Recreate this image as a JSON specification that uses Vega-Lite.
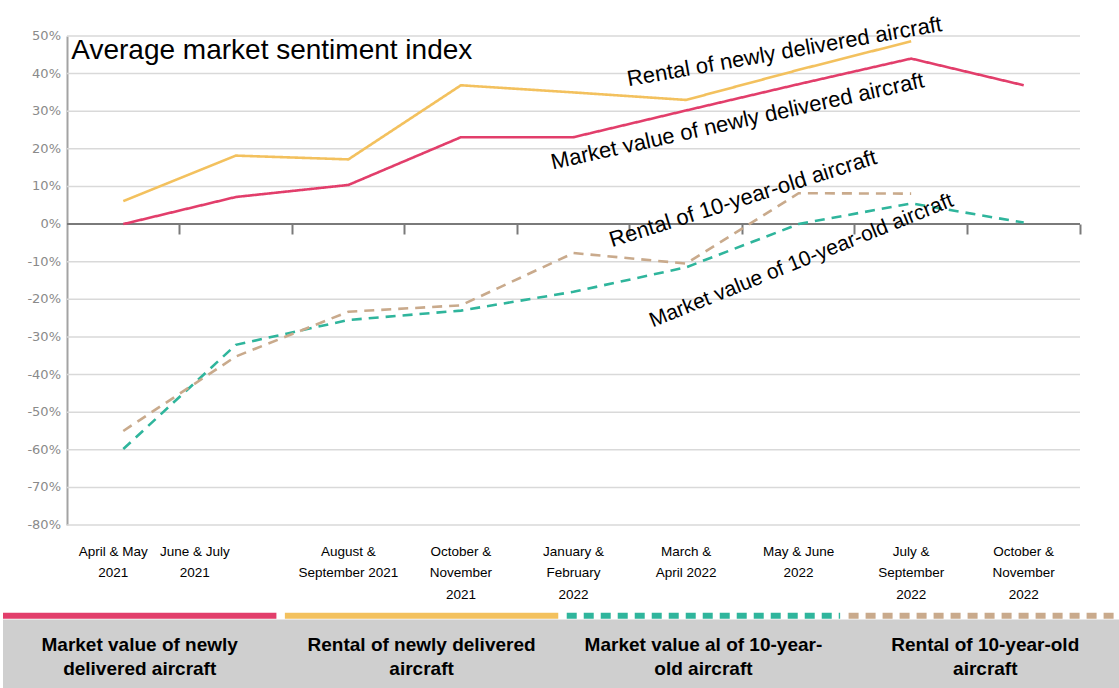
{
  "$schema": "https://vega.github.io/schema/vega-lite/v6.json",
  "padding": 0,
  "background": "white",
  "spacing": 0,
  "columns": 1,
  "align": "none",
  "bounds": "full",
  "config": {"view": {"stroke": null}},
  "datasets": {
    "sentiment": [
      {"period": "April & May 2021", "series": "Market value of newly delivered aircraft", "value": 0},
      {"period": "June & July 2021", "series": "Market value of newly delivered aircraft", "value": 7.2},
      {"period": "August & September 2021", "series": "Market value of newly delivered aircraft", "value": 10.4},
      {"period": "October & November 2021", "series": "Market value of newly delivered aircraft", "value": 23.1},
      {"period": "January & February 2022", "series": "Market value of newly delivered aircraft", "value": 23.1},
      {"period": "March & April 2022", "series": "Market value of newly delivered aircraft", "value": 30.2},
      {"period": "May & June 2022", "series": "Market value of newly delivered aircraft", "value": 37.2},
      {"period": "July & September 2022", "series": "Market value of newly delivered aircraft", "value": 44},
      {"period": "October & November 2022", "series": "Market value of newly delivered aircraft", "value": 36.9},
      {"period": "April & May 2021", "series": "Rental of newly delivered aircraft", "value": 6.1},
      {"period": "June & July 2021", "series": "Rental of newly delivered aircraft", "value": 18.2},
      {"period": "August & September 2021", "series": "Rental of newly delivered aircraft", "value": 17.2},
      {"period": "October & November 2021", "series": "Rental of newly delivered aircraft", "value": 36.9},
      {"period": "January & February 2022", "series": "Rental of newly delivered aircraft", "value": 35},
      {"period": "March & April 2022", "series": "Rental of newly delivered aircraft", "value": 33},
      {"period": "May & June 2022", "series": "Rental of newly delivered aircraft", "value": 41},
      {"period": "July & September 2022", "series": "Rental of newly delivered aircraft", "value": 48.6},
      {"period": "April & May 2021", "series": "Market value of 10-year-old aircraft", "value": -59.8},
      {"period": "June & July 2021", "series": "Market value of 10-year-old aircraft", "value": -32.1},
      {"period": "August & September 2021", "series": "Market value of 10-year-old aircraft", "value": -25.5},
      {"period": "October & November 2021", "series": "Market value of 10-year-old aircraft", "value": -23},
      {"period": "January & February 2022", "series": "Market value of 10-year-old aircraft", "value": -18},
      {"period": "March & April 2022", "series": "Market value of 10-year-old aircraft", "value": -11.5},
      {"period": "May & June 2022", "series": "Market value of 10-year-old aircraft", "value": 0},
      {"period": "July & September 2022", "series": "Market value of 10-year-old aircraft", "value": 5.5},
      {"period": "October & November 2022", "series": "Market value of 10-year-old aircraft", "value": 0.4},
      {"period": "April & May 2021", "series": "Rental of 10-year-old aircraft", "value": -55},
      {"period": "June & July 2021", "series": "Rental of 10-year-old aircraft", "value": -35.2},
      {"period": "August & September 2021", "series": "Rental of 10-year-old aircraft", "value": -23.3},
      {"period": "October & November 2021", "series": "Rental of 10-year-old aircraft", "value": -21.6},
      {"period": "January & February 2022", "series": "Rental of 10-year-old aircraft", "value": -7.7},
      {"period": "March & April 2022", "series": "Rental of 10-year-old aircraft", "value": -10.5},
      {"period": "May & June 2022", "series": "Rental of 10-year-old aircraft", "value": 8.2},
      {"period": "July & September 2022", "series": "Rental of 10-year-old aircraft", "value": 8.1}
    ],
    "gridTicks": [
      {"tick": -80, "label": "-80%"}, {"tick": -70, "label": "-70%"}, {"tick": -60, "label": "-60%"}, {"tick": -50, "label": "-50%"},
      {"tick": -40, "label": "-40%"}, {"tick": -30, "label": "-30%"}, {"tick": -20, "label": "-20%"}, {"tick": -10, "label": "-10%"},
      {"tick": 0, "label": "0%"}, {"tick": 10, "label": "10%"}, {"tick": 20, "label": "20%"}, {"tick": 30, "label": "30%"},
      {"tick": 40, "label": "40%"}, {"tick": 50, "label": "50%"}
    ],
    "legend": [
      {"series": "Market value of newly delivered aircraft", "label": "Market value of newly\ndelivered aircraft"},
      {"series": "Rental of newly delivered aircraft", "label": "Rental of newly delivered\naircraft"},
      {"series": "Market value of 10-year-old aircraft", "label": "Market value al of 10-year-\nold aircraft"},
      {"series": "Rental of 10-year-old aircraft", "label": "Rental of 10-year-old\naircraft"}
    ]
  },
  "concat": [
    {
      "width": 1119,
      "height": 489,
      "data": {"name": "sentiment"},
      "resolve": {"axis": {"x": "independent"}},
      "layer": [
        {
          "data": {"name": "gridTicks"},
          "mark": {"type": "rule", "color": "#d9d9d9", "strokeWidth": 1.5},
          "encoding": {
            "x": {"datum": "April & May 2021", "bandPosition": 0, "axis": null},
            "x2": {"datum": "October & November 2022", "bandPosition": 1},
            "y": {
              "field": "tick", "type": "quantitative",
              "scale": {"domain": [-80, 50], "nice": false, "zero": false},
              "axis": {"title": null, "labels": false, "ticks": false, "grid": false, "domain": true, "domainColor": "#a3a3a3", "domainWidth": 2, "offset": -64}
            }
          }
        },
        {
          "data": {"name": "gridTicks"},
          "mark": {"type": "text", "align": "right", "baseline": "middle", "dx": -6, "font": "DejaVu Sans", "fontSize": 13, "color": "#8a8a8a"},
          "encoding": {
            "x": {"datum": "April & May 2021", "bandPosition": 0, "axis": null},
            "y": {"field": "tick", "type": "quantitative"},
            "text": {"field": "label"}
          }
        },
        {
          "data": {"values": [{}]},
          "mark": {"type": "rule", "color": "#7a7a7a", "strokeWidth": 2},
          "encoding": {
            "x": {"datum": "April & May 2021", "bandPosition": 0, "axis": null},
            "x2": {"datum": "October & November 2022", "bandPosition": 1},
            "y": {"datum": 0}
          }
        },
        {
          "mark": {"type": "line", "strokeWidth": 2.6, "strokeCap": "butt"},
          "encoding": {
            "x": {
              "field": "period", "type": "nominal",
              "scale": {"type": "band", "domain": ["April & May 2021", "June & July 2021", "August & September 2021", "October & November 2021", "January & February 2022", "March & April 2022", "May & June 2022", "July & September 2022", "October & November 2022"], "paddingInner": 0, "paddingOuter": 0.4709, "align": 0.6038},
              "axis": {
                "orient": "bottom", "title": null, "domain": false, "ticks": false, "grid": false,
                "labelAngle": 0, "labelFont": "Liberation Sans", "labelFontSize": 13.5, "labelColor": "#000000",
                "labelLineHeight": 21.5, "labelBaseline": "top", "labelPadding": 19, "labelOverlap": false, "labelLimit": 250,
                "labelExpr": "{'April & May 2021': ['April & May', '2021'], 'June & July 2021': ['June & July', '2021'], 'August & September 2021': ['August &', 'September 2021'], 'October & November 2021': ['October &', 'November', '2021'], 'January & February 2022': ['January &', 'February', '2022'], 'March & April 2022': ['March &', 'April 2022'], 'May & June 2022': ['May & June', '2022'], 'July & September 2022': ['July &', 'September', '2022'], 'October & November 2022': ['October &', 'November', '2022']}[datum.value]",
                "labelOffset": {"condition": [{"test": "datum.value === 'June & July 2021'", "value": -41}, {"test": "datum.value === 'April & May 2021'", "value": -10}], "value": 0},
                "minExtent": 87, "maxExtent": 87
              }
            },
            "y": {"field": "value", "type": "quantitative"},
            "color": {"field": "series", "type": "nominal", "legend": null,
              "scale": {"domain": ["Market value of newly delivered aircraft", "Rental of newly delivered aircraft", "Market value of 10-year-old aircraft", "Rental of 10-year-old aircraft"], "range": ["#e23e6b", "#f3c15e", "#2fb59c", "#c9aa8c"]}},
            "strokeDash": {"field": "series", "type": "nominal", "legend": null,
              "scale": {"domain": ["Market value of newly delivered aircraft", "Rental of newly delivered aircraft", "Market value of 10-year-old aircraft", "Rental of 10-year-old aircraft"], "range": [[1, 0], [1, 0], [10, 7], [10, 7]]}}
          }
        },
        {
          "mark": {"type": "point", "opacity": 0},
          "encoding": {
            "x": {"field": "period", "type": "nominal",
              "axis": {"orient": "bottom", "offset": -301, "title": null, "labels": false, "domain": false, "grid": false,
                "ticks": true, "tickColor": "#7a7a7a", "tickWidth": 2, "tickSize": 10, "bandPosition": 1, "minExtent": 0, "maxExtent": 0}},
            "y": {"field": "value", "type": "quantitative"}
          }
        },
        {
          "data": {"values": [{}]},
          "mark": {"type": "text", "text": "Average market sentiment index", "font": "Liberation Sans", "fontSize": 28, "align": "left", "baseline": "alphabetic", "dx": -52, "color": "#000000"},
          "encoding": {
            "x": {"datum": "April & May 2021", "axis": {"orient": "top", "title": null, "labels": false, "ticks": false, "grid": false, "domainOpacity": 0, "minExtent": 36, "maxExtent": 36}},
            "y": {"datum": 44}
          }
        },
        {
          "data": {"values": [{}]},
          "mark": {"type": "text", "text": "Rental of newly delivered aircraft", "font": "Liberation Sans", "fontSize": 22, "align": "center", "baseline": "alphabetic", "angle": -10, "xOffset": -13, "color": "#000000"},
          "encoding": {"x": {"datum": "May & June 2022", "axis": null}, "y": {"datum": 44}}
        },
        {
          "data": {"values": [{}]},
          "mark": {"type": "text", "text": "Market value of newly delivered aircraft", "font": "Liberation Sans", "fontSize": 22, "align": "center", "baseline": "alphabetic", "angle": -12.5, "xOffset": 53, "color": "#000000"},
          "encoding": {"x": {"datum": "March & April 2022", "axis": null}, "y": {"datum": 25.5}}
        },
        {
          "data": {"values": [{}]},
          "mark": {"type": "text", "text": "Rental of 10-year-old aircraft", "font": "Liberation Sans", "fontSize": 22, "align": "center", "baseline": "alphabetic", "angle": -17.5, "xOffset": 59, "color": "#000000"},
          "encoding": {"x": {"datum": "March & April 2022", "axis": null}, "y": {"datum": 5}}
        },
        {
          "data": {"values": [{}]},
          "mark": {"type": "text", "text": "Market value of 10-year-old aircraft", "font": "Liberation Sans", "fontSize": 21, "align": "center", "baseline": "alphabetic", "angle": -22, "xOffset": 5, "color": "#000000"},
          "encoding": {"x": {"datum": "May & June 2022", "axis": null}, "y": {"datum": -11.3}}
        }
      ]
    },
    {
      "width": 1119,
      "height": 76,
      "data": {"name": "legend"},
      "layer": [
        {
          "data": {"values": [{}]},
          "mark": {"type": "rect", "color": "#cfcfcf"},
          "encoding": {"y": {"datum": 0, "scale": {"domain": [0, 1], "nice": false}, "axis": null}, "y2": {"datum": 0.9}}
        },
        {
          "mark": {"type": "rule", "strokeWidth": 6},
          "encoding": {
            "x": {"field": "series", "type": "nominal", "bandPosition": 0, "axis": null,
              "scale": {"type": "band", "domain": ["Market value of newly delivered aircraft", "Rental of newly delivered aircraft", "Market value of 10-year-old aircraft", "Rental of 10-year-old aircraft"], "paddingInner": 0.03, "paddingOuter": 0}},
            "x2": {"field": "series", "bandPosition": 1},
            "y": {"datum": 0.95, "axis": null},
            "color": {"field": "series", "type": "nominal", "legend": null,
              "scale": {"domain": ["Market value of newly delivered aircraft", "Rental of newly delivered aircraft", "Market value of 10-year-old aircraft", "Rental of 10-year-old aircraft"], "range": ["#e23e6b", "#f3c15e", "#2fb59c", "#c9aa8c"]}},
            "strokeDash": {"field": "series", "type": "nominal", "legend": null,
              "scale": {"domain": ["Market value of newly delivered aircraft", "Rental of newly delivered aircraft", "Market value of 10-year-old aircraft", "Rental of 10-year-old aircraft"], "range": [[1, 0], [1, 0], [10, 7], [10, 7]]}}
          }
        },
        {
          "mark": {"type": "text", "font": "Liberation Sans", "fontWeight": "bold", "fontSize": 19, "lineBreak": "\n", "lineHeight": 24, "baseline": "middle", "align": "center", "color": "#000000"},
          "encoding": {
            "x": {"field": "series", "type": "nominal", "axis": null},
            "y": {"datum": 0.57, "axis": null},
            "text": {"field": "label"}
          }
        }
      ]
    }
  ]
}
